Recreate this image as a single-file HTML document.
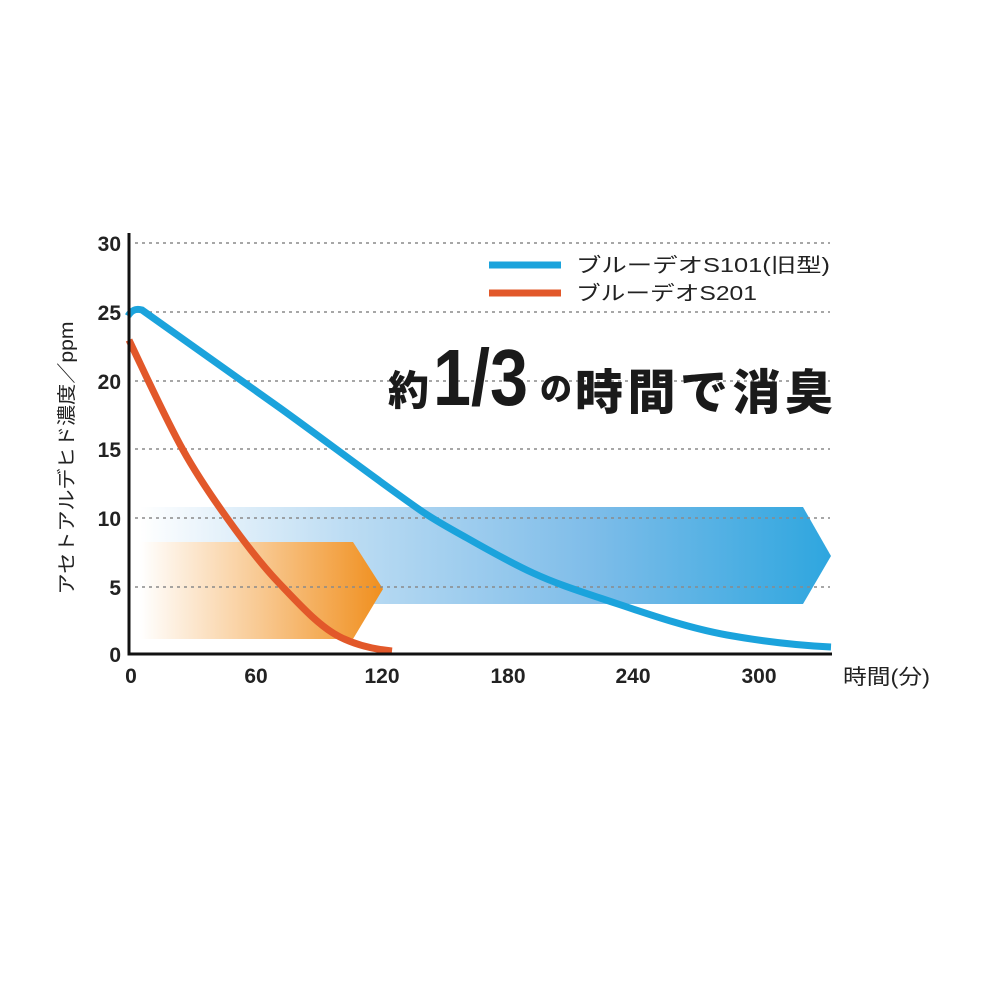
<!DOCTYPE html>
<html>
<head>
<meta charset="utf-8">
<style>
html,body{margin:0;padding:0;background:#fff;}
svg{display:block;}
</style>
</head>
<body>
<svg width="1000" height="1000" viewBox="0 0 1000 1000" xmlns="http://www.w3.org/2000/svg">
<defs>
<linearGradient id="gb" x1="140" y1="0" x2="831" y2="0" gradientUnits="userSpaceOnUse">
<stop offset="0" stop-color="#ffffff"/>
<stop offset="0.3" stop-color="#bcdcf3"/>
<stop offset="0.65" stop-color="#7fbde9"/>
<stop offset="1" stop-color="#2ea6df"/>
</linearGradient>
<linearGradient id="go" x1="140" y1="0" x2="383" y2="0" gradientUnits="userSpaceOnUse">
<stop offset="0" stop-color="#ffffff"/>
<stop offset="0.5" stop-color="#f8c890"/>
<stop offset="1" stop-color="#f08f1e"/>
</linearGradient>
</defs>

<!-- bands -->
<polygon points="140,507 803,507 831,556 803,604 140,604" fill="url(#gb)"/>
<polygon points="140,542 353,542 383,589 353,639 140,639" fill="url(#go)"/>

<!-- gridlines -->
<g stroke="#8a8a8a" stroke-width="1.5" stroke-dasharray="3 4">
<line x1="135" y1="243" x2="830" y2="243"/>
<line x1="135" y1="312" x2="830" y2="312"/>
<line x1="135" y1="381" x2="830" y2="381"/>
<line x1="135" y1="449" x2="830" y2="449"/>
<line x1="135" y1="518" x2="830" y2="518"/>
<line x1="135" y1="587" x2="830" y2="587"/>
</g>

<!-- title -->
<g fill="#1a1a1a" font-family="'Liberation Sans','Noto Sans CJK JP',sans-serif" font-weight="bold">
<text x="388" y="405" font-size="41" font-family="'Noto Sans CJK JP',sans-serif" font-weight="900">約</text>
<text x="433" y="405" font-size="80" textLength="95" lengthAdjust="spacingAndGlyphs">1/3</text>
<text x="540" y="400" font-size="32" font-family="'Noto Sans CJK JP',sans-serif" font-weight="900">の</text>
<text x="575" y="409" font-size="48" font-family="'Noto Sans CJK JP',sans-serif" font-weight="900" textLength="258" lengthAdjust="spacing">時間で消臭</text>
</g>

<!-- legend -->
<line x1="489" y1="265" x2="561" y2="265" stroke="#1ba3dc" stroke-width="7"/>
<line x1="489" y1="293" x2="561" y2="293" stroke="#e2582a" stroke-width="7"/>
<g fill="#222" font-family="'Liberation Sans','Noto Sans CJK JP',sans-serif" font-size="20">
<text x="576" y="272" textLength="254" lengthAdjust="spacingAndGlyphs">ブルーデオS101(旧型)</text>
<text x="576" y="300" textLength="181" lengthAdjust="spacingAndGlyphs">ブルーデオS201</text>
</g>

<!-- curves -->
<path d="M128,316 C131,311 135,308 142,310 C188,342.2 234,374.9 280,408 C326.7,441.6 373.3,477.3 420,510 C435.7,521 451.3,529.1 467,538 C489,550.5 511,562.9 533,573 C555.3,583.3 577.7,590.6 600,598 C642.3,612 684.7,627.4 727,635 C761.7,641.2 796.3,645.3 831,647" fill="none" stroke="#1ba3dc" stroke-width="7"/>
<path d="M129,340 C147,377.8 165,417.6 183,450 C197.7,476.4 212.3,497.5 227,518 C244,541.8 261,564.1 278,582 C298.7,603.7 319.3,626.7 340,637 C357.3,645.7 374.7,649.3 392,651" fill="none" stroke="#e2582a" stroke-width="7"/>

<!-- axes -->
<line x1="129" y1="233" x2="129" y2="655.5" stroke="#111" stroke-width="3"/>
<line x1="127.5" y1="654" x2="832" y2="654" stroke="#111" stroke-width="3"/>

<!-- y tick labels -->
<g fill="#222" font-family="'Liberation Sans',sans-serif" font-weight="bold" font-size="21" text-anchor="end">
<text x="121" y="251">30</text>
<text x="121" y="320">25</text>
<text x="121" y="389">20</text>
<text x="121" y="457">15</text>
<text x="121" y="526">10</text>
<text x="121" y="595">5</text>
<text x="121" y="662">0</text>
</g>

<!-- x tick labels -->
<g fill="#222" font-family="'Liberation Sans',sans-serif" font-weight="bold" font-size="21" text-anchor="middle">
<text x="131" y="683">0</text>
<text x="256" y="683">60</text>
<text x="382" y="683">120</text>
<text x="508" y="683">180</text>
<text x="633" y="683">240</text>
<text x="759" y="683">300</text>
</g>
<text x="843" y="684" fill="#222" font-family="'Liberation Sans','Noto Sans CJK JP',sans-serif" font-size="21" textLength="87" lengthAdjust="spacingAndGlyphs">時間(分)</text>

<!-- y axis title -->
<text transform="translate(73,458) rotate(-90)" text-anchor="middle" fill="#222" font-family="'Liberation Sans','Noto Sans CJK JP',sans-serif" font-size="19" textLength="273" lengthAdjust="spacingAndGlyphs">アセトアルデヒド濃度／ppm</text>
</svg>
</body>
</html>
